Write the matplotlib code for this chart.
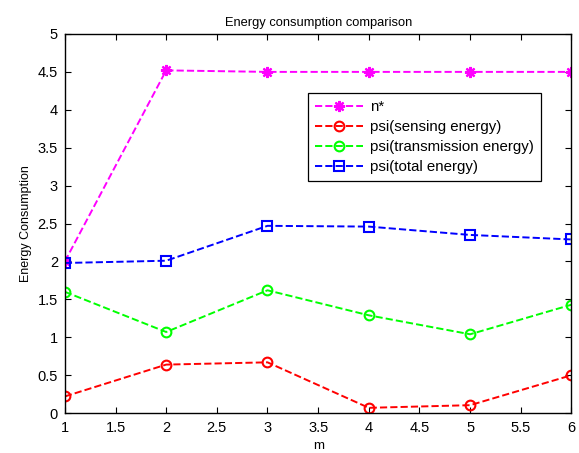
import matplotlib
matplotlib.use("Agg")
import matplotlib.pyplot as plt

plt.rcParams['font.family'] = ['Liberation Sans', 'DejaVu Sans']

m = [1, 2, 3, 4, 5, 6]
n_star = [2.0, 4.52, 4.5, 4.5, 4.5, 4.5]
psi_sensing = [0.22, 0.64, 0.67, 0.07, 0.105, 0.50]
psi_transmission = [1.60, 1.07, 1.62, 1.29, 1.04, 1.43]
psi_total = [1.98, 2.01, 2.47, 2.46, 2.35, 2.29]

labels = ["n*", "psi(sensing energy)", "psi(transmission energy)", "psi(total energy)"]
xticks = [1, 1.5, 2, 2.5, 3, 3.5, 4, 4.5, 5, 5.5, 6]
xticklabels = ["1", "1.5", "2", "2.5", "3", "3.5", "4", "4.5", "5", "5.5", "6"]
yticks = [0, 0.5, 1, 1.5, 2, 2.5, 3, 3.5, 4, 4.5, 5]
yticklabels = ["0", "0.5", "1", "1.5", "2", "2.5", "3", "3.5", "4", "4.5", "5"]

fig = plt.figure(figsize=(5.79, 4.53), dpi=100)
ax = fig.add_axes([0.112, 0.088, 0.875, 0.837])

lw = 1.4
ax.plot(m, n_star, '--', marker=(8, 2, 0), color='#ff00ff', lw=lw, ms=8, mew=1.6, label=labels[0])
ax.plot(m, psi_sensing, '--o', color='#ff0000', lw=lw, ms=7, mfc='none', mew=1.5, label=labels[1])
ax.plot(m, psi_transmission, '--o', color='#00ff00', lw=lw, ms=7, mfc='none', mew=1.5, label=labels[2])
ax.plot(m, psi_total, '--s', color='#0000ff', lw=lw, ms=7.5, mfc='none', mew=1.5, label=labels[3])

ax.set_xlim(1, 6)
ax.set_ylim(0, 5)
ax.set_xticks(xticks)
ax.set_xticklabels(xticklabels)
ax.set_yticks(yticks)
ax.set_yticklabels(yticklabels)
ax.tick_params(direction='in', top=True, right=True, labelsize=10.5, length=4, width=0.8)
ax.tick_params(axis='x', pad=6)
ax.tick_params(axis='y', pad=5)
for s in ax.spines.values():
    s.set_linewidth(1.0)

ax.set_title("Energy consumption comparison", fontsize=9.3, pad=6)
ax.set_xlabel("m", fontsize=9.5, labelpad=3)
ax.set_ylabel("Energy Consumption", fontsize=9, labelpad=4)

leg = ax.legend(loc='upper left', bbox_to_anchor=(0.48, 0.844), fontsize=10.8,
                frameon=True, fancybox=False, edgecolor='black', framealpha=1,
                borderaxespad=0, borderpad=0.45, labelspacing=0.4,
                handlelength=3.2, handletextpad=0.5)
leg.get_frame().set_linewidth(0.9)

fig.savefig("out.png", dpi=100)
